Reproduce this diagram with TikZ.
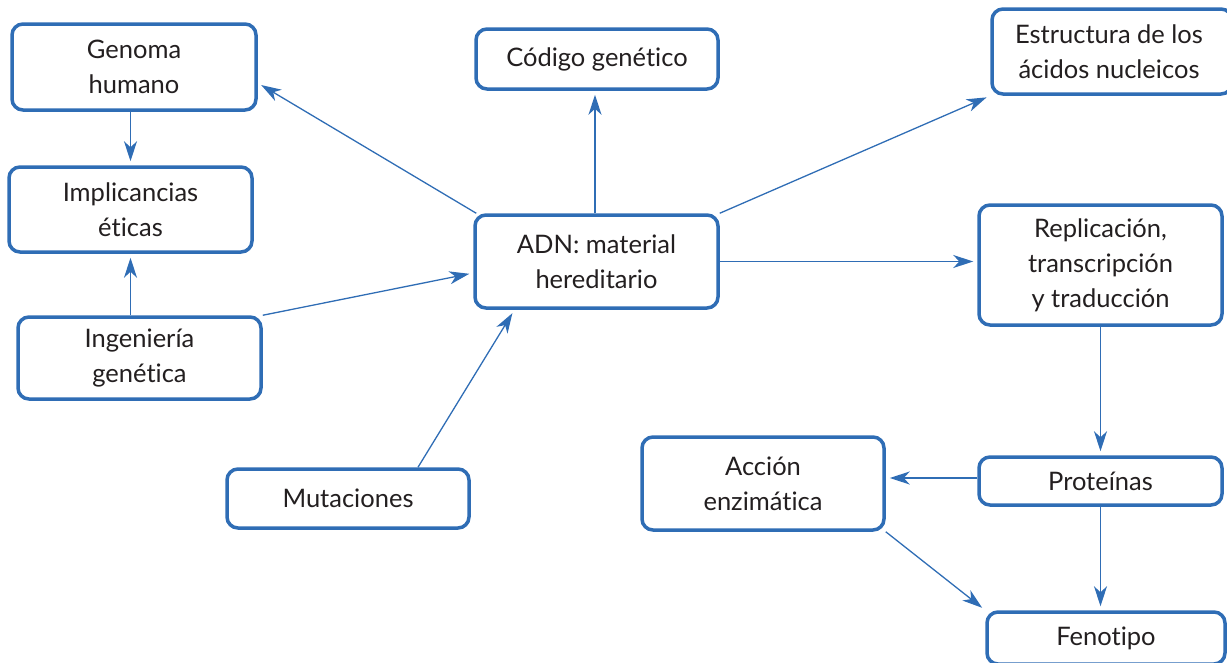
\documentclass[tikz,border=0pt]{standalone}
\usepackage{fontspec}
\setmainfont{Lato}[Ligatures=NoCommon]
\usetikzlibrary{arrows.meta,calc}
\definecolor{boxblue}{HTML}{2F6DB5}
\definecolor{txt}{HTML}{231F20}
\begin{document}
\begin{tikzpicture}[x=1pt,y=-1pt,
  cbox/.style={draw=boxblue,line width=3.5pt,rounded corners=11pt,fill=white,
    inner sep=0pt,align=center,text=txt,font=\fontsize{25.5}{35}\selectfont},
  conn/.style={draw=boxblue,line width=1.3pt,
    -{Stealth[length=20pt,width=13pt,inset=6pt]},shorten >=4pt}]
\useasboundingbox (0,0) rectangle (1227,662);
\node[cbox,minimum width=244pt,minimum height=86pt] (gen) at (134,67) {Genoma\\humano};
\node[cbox,minimum width=243pt,minimum height=85pt] (imp) at (130.5,209.5) {Implicancias\\éticas};
\node[cbox,minimum width=243pt,minimum height=82pt] (ing) at (139.5,358) {Ingeniería\\genética};
\node[cbox,minimum width=242pt,minimum height=59pt] (mut) at (348,498.5) {Mutaciones};
\node[cbox,minimum width=242pt,minimum height=60pt] (cod) at (597,59) {Código genético};
\node[cbox,minimum width=243pt,minimum height=93pt] (adn) at (596.5,261.5) {ADN: material\\hereditario};
\node[cbox,minimum width=240pt,minimum height=85pt] (est) at (1112,51.5) {\hspace*{-6pt}Estructura de los\\\hspace*{-6pt}ácidos nucleicos};
\node[cbox,minimum width=243pt,minimum height=120pt] (rep) at (1100.5,265) {Replicación,\\transcripción\\y traducción};
\node[cbox,minimum width=243pt,minimum height=48pt] (pro) at (1100.5,481) {Proteínas};
\node[cbox,minimum width=242pt,minimum height=93pt] (acc) at (763,483.5) {Acción\\enzimática};
\node[cbox,minimum width=238pt,minimum height=52pt] (fen) at (1106,638) {Fenotipo};
\draw[conn] (imp.north |- gen.south) -- (imp.north);
\draw[conn] (imp.south |- ing.north) -- (imp.south);
\draw[conn] (ing.north east) -- ($(adn.west)+(0,11.5)$);
\draw[conn] ($(adn.north west)+(3,0)$) -- ($(gen.east)+(0,16)$);
\draw[conn] ($(cod.south |- adn.north)+(-2,0)$) -- ($(cod.south)+(-2,0)$);
\draw[conn] (adn.north east) -- (est.south west);
\draw[conn] (adn.east) -- (rep.west |- adn.east);
\draw[conn] ($(mut.north)+(70,0)$) -- ($(adn.south)+(-82,0)$);
\draw[conn] (rep.south) -- (pro.north);
\draw[conn] ($(pro.west)+(0,-3)$) -- ($(acc.east |- pro.west)+(0,-3)$);
\draw[conn] (pro.south) -- (pro.south |- fen.north);
\draw[conn] (acc.south east) -- (fen.north west);
\end{tikzpicture}
\end{document}
